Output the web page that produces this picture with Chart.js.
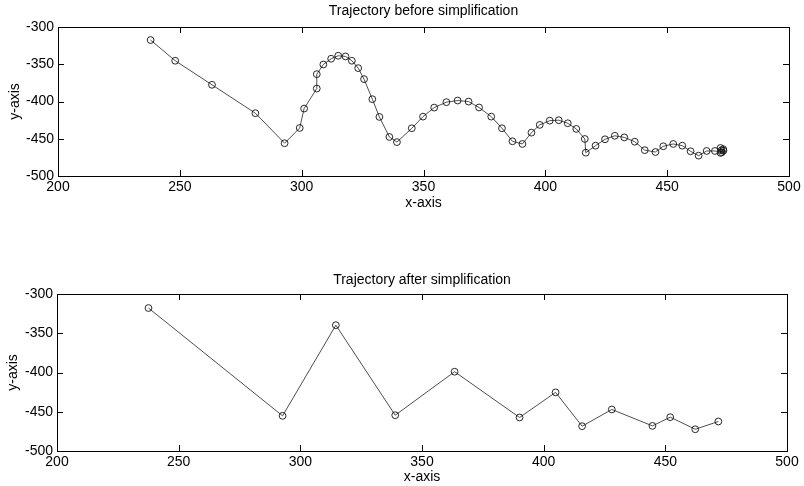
<!DOCTYPE html>
<html>
<head>
<meta charset="utf-8">
<script src="https://cdn.jsdelivr.net/npm/chart.js@4.4.1/dist/chart.umd.min.js"></script>
<style>
  html, body { margin:0; padding:0; background:#fff; }
  #wrap { position:relative; width:804px; height:486px; }
  .pane { position:absolute; left:0; width:804px; height:243px; }
</style>
</head>
<body>
<div id="wrap">
  <div class="pane" style="top:0"><canvas id="chart-before" width="804" height="243"></canvas></div>
  <div class="pane" style="top:243px"><canvas id="chart-after" width="804" height="243"></canvas></div>
</div>
<script>
/* trajectory */
var beforeX = [238, 248.1, 263.2, 281, 293, 299.2, 301, 306.2, 306.2, 308.9, 312.1, 315, 318, 320.6, 323.2, 325.6, 329, 331.9, 336, 339.1,
               345.2, 349.8, 354.4, 359.4, 364, 368.5, 372.8, 377.8, 382.2, 386.5, 390.6, 394.3, 397.7, 401.8, 405.5, 409.2, 412.7, 416.2, 416.6, 420.6,
               424.5, 428.5, 432.4, 436.7, 440.8, 445.2, 448.4, 452.5, 456.2, 459.6, 462.9, 466.2, 469.6, 472.4, 473.1, 471.9, 473, 472.3, 471.9];
var beforeY = [-317.5, -345.3, -377.6, -415.7, -456, -435.5, -409.5, -382.6, -363.3, -350.3, -342.6, -338.6, -339.5, -345.3, -355.2, -370, -396.9, -420.7, -447.6, -454.5,
               -435.9, -420.3, -408.2, -400.9, -398.7, -400.1, -408, -420.3, -435.9, -453.4, -457, -441.8, -431.4, -425.7, -425.1, -429.2, -436.8, -450.3, -468.7, -459.3,
               -450.7, -446, -448.2, -454, -465.3, -467.8, -460.1, -457, -459.3, -466.8, -472.7, -466.4, -466.4, -468.2, -466, -469, -464, -465.5, -462.4];

var afterX = [237.6, 292.7, 314.6, 339, 363.4, 390.1, 404.9, 415.8, 428, 444.7, 452, 462.3, 471.8];
var afterY = [-317.9, -455.2, -339.7, -454.4, -399, -457.3, -425.3, -468.4, -447.1, -468, -456.9, -472.3, -462.4];

var xTicks = [200, 250, 300, 350, 400, 450, 500];
var yTicks = [-500, -450, -400, -350, -300];

var FONT = { family:"'Liberation Sans', Arial, sans-serif", size:14 };
var LINE_H = 14 * 1.2;
var TICK_LEN = 6;

function toPoints(xs, ys) {
  return xs.map(function(x, i) { return { x:x, y:ys[i] }; });
}

/* MATLAB style axes: closed box, ticks pointing inward on all four sides,
   title centred over the plot box rather than over the whole canvas */
var matlabBox = {
  id: 'matlabBox',
  afterLayout: function(chart) {
    var t = chart.titleBlock, a = chart.chartArea;
    if (!t) return;
    t.left = a.left; t.right = a.right; t.width = a.right - a.left;
  },
  afterDatasetsDraw: function(chart) {
    var a = chart.chartArea, ctx = chart.ctx;
    var sx = chart.scales.x, sy = chart.scales.y;
    ctx.save();
    ctx.strokeStyle = '#000';
    ctx.lineWidth = 1;
    ctx.beginPath();
    sx.ticks.forEach(function(t) {
      var px = Math.round(sx.getPixelForValue(t.value)) + 0.5;
      ctx.moveTo(px, a.bottom); ctx.lineTo(px, a.bottom - TICK_LEN);
      ctx.moveTo(px, a.top);    ctx.lineTo(px, a.top + TICK_LEN);
    });
    sy.ticks.forEach(function(t) {
      var py = Math.round(sy.getPixelForValue(t.value)) + 0.5;
      ctx.moveTo(a.left, py);  ctx.lineTo(a.left + TICK_LEN, py);
      ctx.moveTo(a.right, py); ctx.lineTo(a.right - TICK_LEN, py);
    });
    ctx.stroke();
    ctx.strokeRect(Math.round(a.left) + 0.5, Math.round(a.top) + 0.5, Math.round(a.right - a.left), Math.round(a.bottom - a.top));
    ctx.restore();
  }
};

function makeChart(id, title, xs, ys, box) {
  var H = 243;
  return new Chart(document.getElementById(id).getContext('2d'), {
    type: 'scatter',
    data: {
      datasets: [{
        data: toPoints(xs, ys),
        showLine: true,
        borderColor: '#3a3a3a',
        borderWidth: 0.9,
        tension: 0,
        pointStyle: 'circle',
        pointRadius: 3.4,
        pointBorderWidth: 0.9,
        pointBorderColor: '#111',
        pointBackgroundColor: 'rgba(0,0,0,0)'
      }]
    },
    plugins: [matlabBox],
    options: {
      responsive: false,
      animation: false,
      events: [],
      layout: { padding: { left:0, right:804 - box.right, top:0, bottom:0 } },
      plugins: {
        legend: { display:false },
        tooltip: { enabled:false },
        title: {
          display: true, text: title, color:'#000', font: { family:FONT.family, size:14, weight:'normal' },
          padding: { top: box.titleTop, bottom: box.top - box.titleTop - LINE_H }
        }
      },
      scales: {
        x: {
          type: 'linear', min: xTicks[0], max: xTicks[xTicks.length - 1],
          afterBuildTicks: function(s) { s.ticks = xTicks.map(function(v) { return { value:v }; }); },
          afterFit: function(s) { s.height = H - box.bottom; },
          grid: { display:false, drawTicks:false },
          border: { display:false },
          ticks: { color:'#000', font:FONT, padding:2.5, maxRotation:0, autoSkip:false },
          title: { display:true, text:'x-axis', color:'#000', font:FONT, padding: { top:0, bottom: box.xTitlePad } }
        },
        y: {
          type: 'linear', min: yTicks[0], max: yTicks[yTicks.length - 1],
          afterBuildTicks: function(s) { s.ticks = yTicks.map(function(v) { return { value:v }; }); },
          afterFit: function(s) { s.width = box.left; },
          grid: { display:false, drawTicks:false },
          border: { display:false },
          ticks: { color:'#000', font:FONT, padding:4, autoSkip:false },
          title: { display:true, text:'y-axis', color:'#000', font:FONT, padding: { top: box.yTitlePad, bottom:0 } }
        }
      }
    }
  });
}

makeChart('chart-before', 'Trajectory before simplification', beforeX, beforeY,
  { left:58, right:789, top:27, bottom:176, titleTop:3.1, xTitlePad:31.6, yTitlePad:7 });
makeChart('chart-after', 'Trajectory after simplification', afterX, afterY,
  { left:57, right:787, top:51, bottom:208, titleTop:29.1, xTitlePad:0.6, yTitlePad:4.6 });
</script>
</body>
</html>
